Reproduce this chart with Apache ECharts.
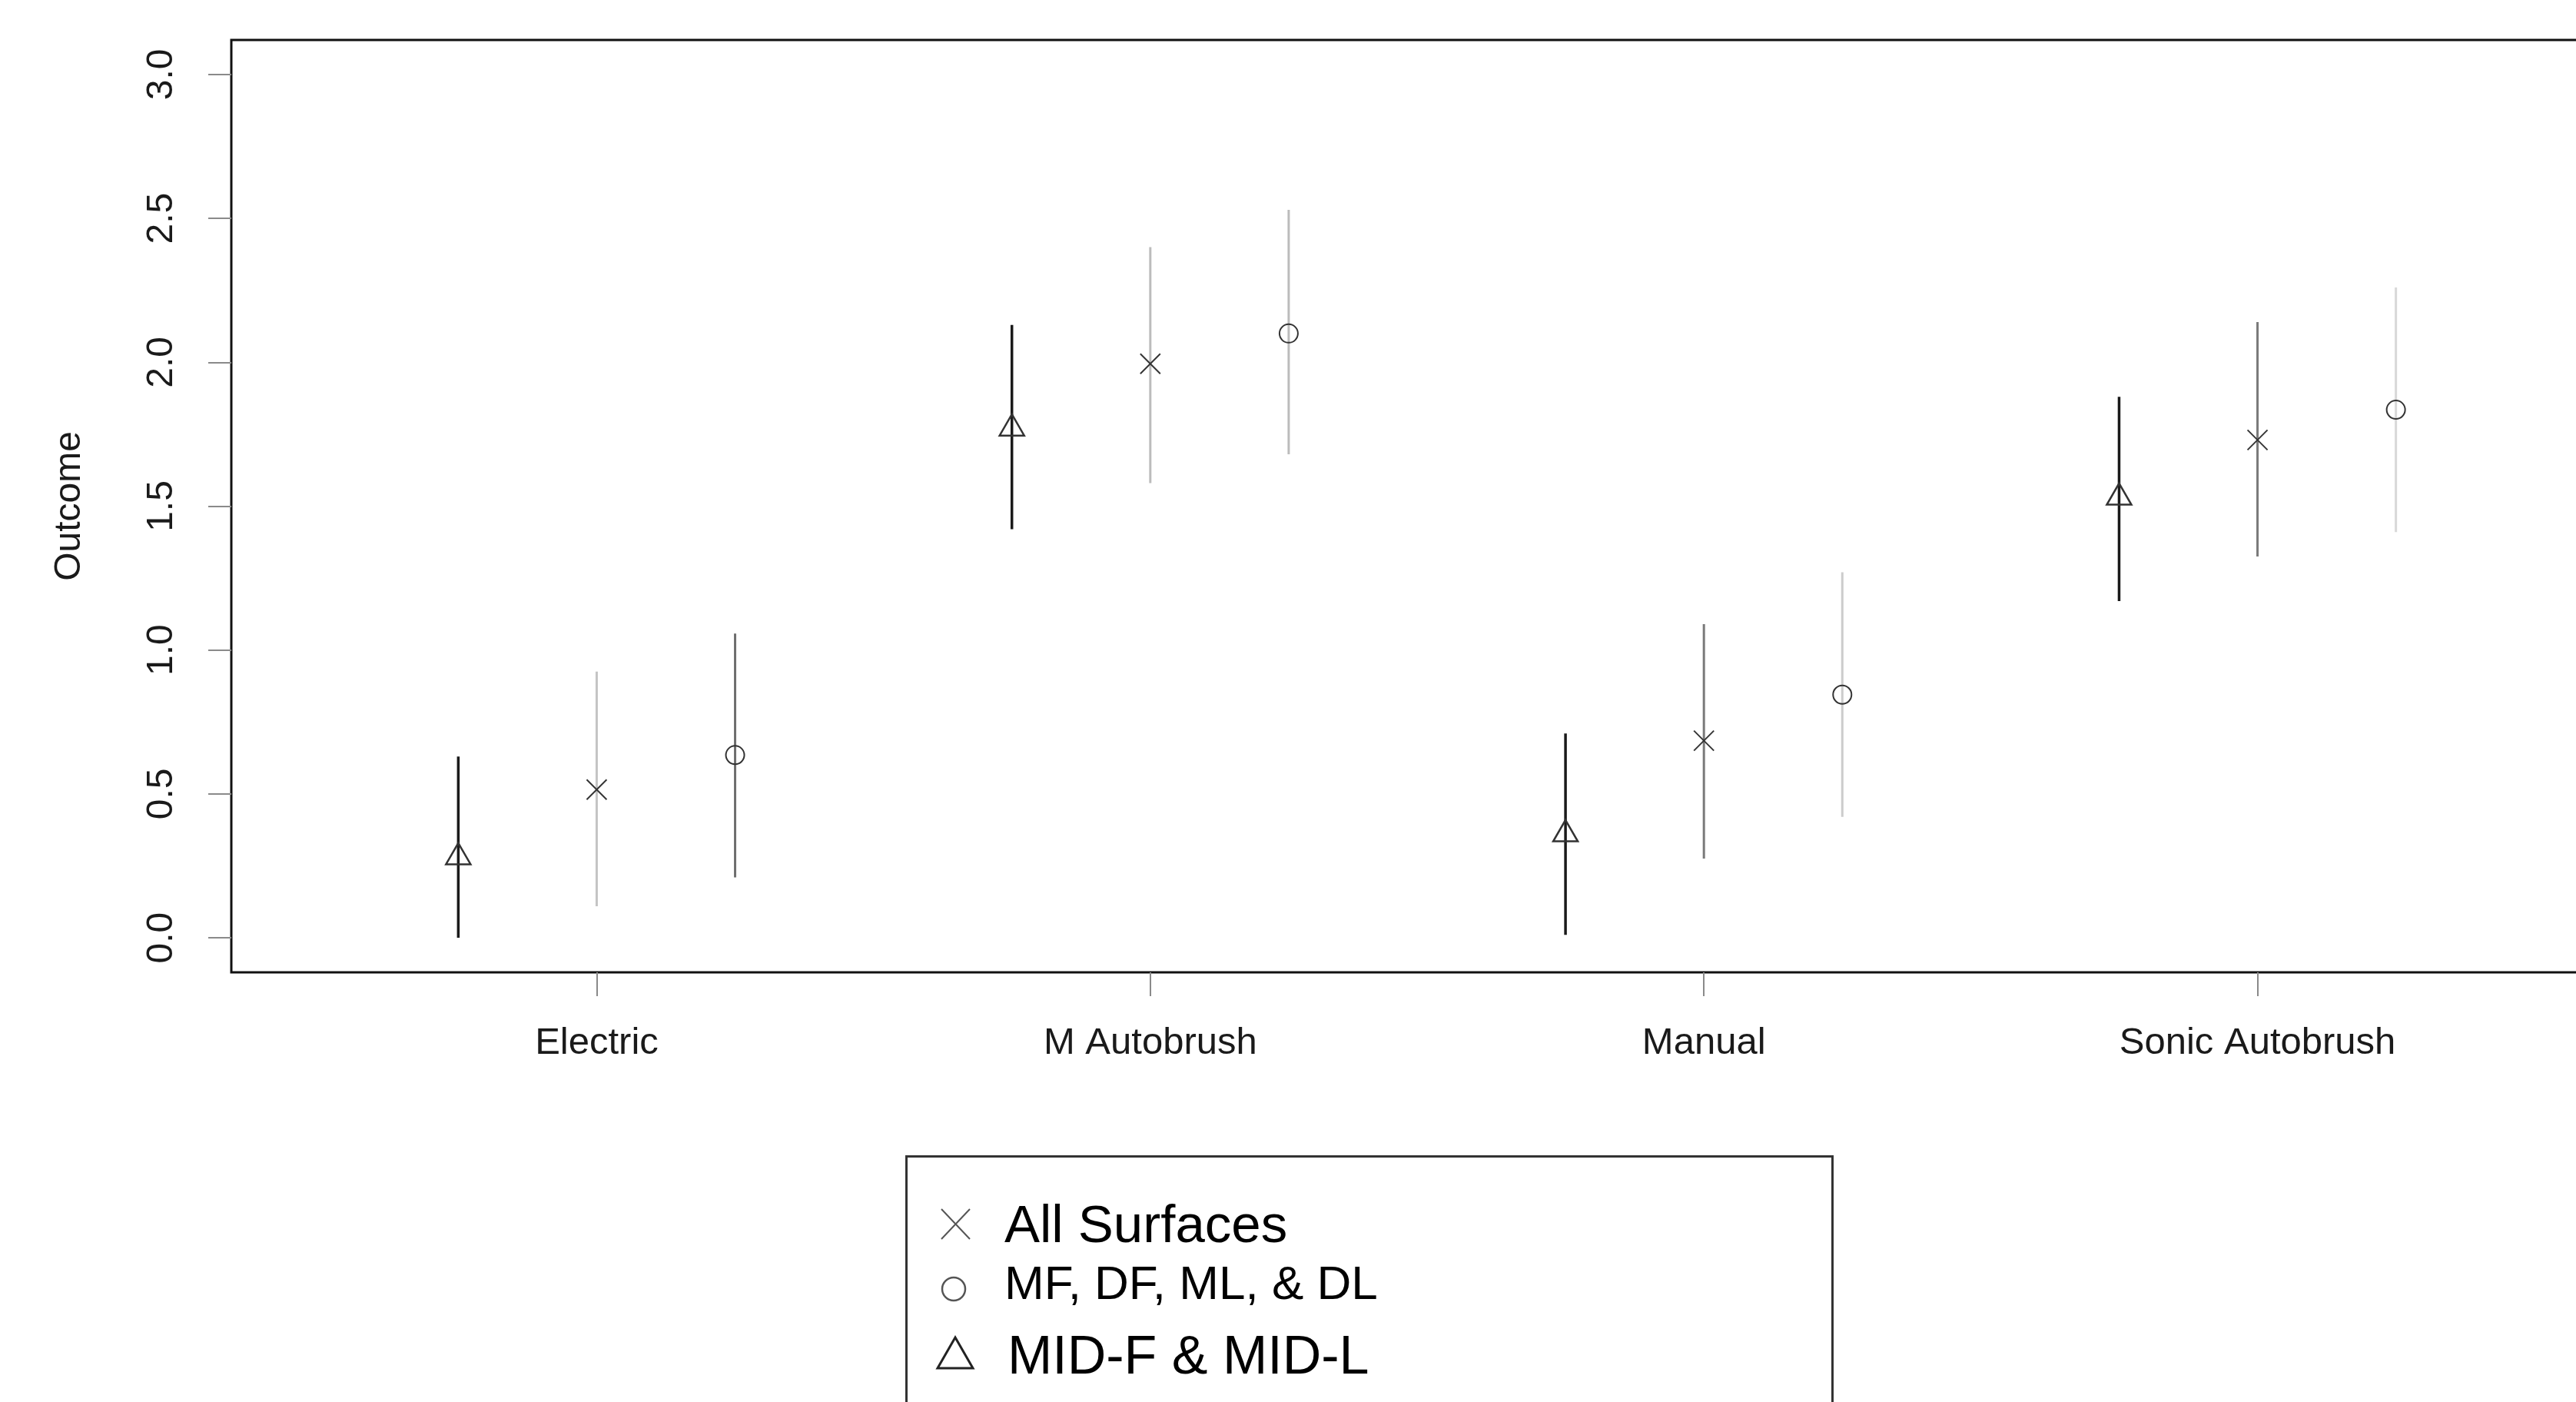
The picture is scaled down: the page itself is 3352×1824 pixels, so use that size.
<!DOCTYPE html>
<html>
<head>
<meta charset="utf-8">
<title>Outcome by brush type</title>
<script src="https://cdn.jsdelivr.net/npm/echarts@6/dist/echarts.min.js"></script>
<style>
html,body{margin:0;padding:0;background:#fff;}
#chart{width:3352px;height:1824px;}
</style>
</head>
<body>
<div id="chart"></div>
<script>
// ---- data ----
const categories = ['Electric', 'M Autobrush', 'Manual', 'Sonic Autobrush'];
const yTicks = [0, 0.5, 1, 1.5, 2, 2.5, 3];
const seriesNames = ['All Surfaces', 'MF, DF, ML, & DL', 'MID-F & MID-L'];

// All Surfaces (x)
const allMean = [0.515, 1.995, 0.685, 1.73];
const allLow  = [0.11, 1.58, 0.275, 1.325];
const allHigh = [0.925, 2.40, 1.09, 2.14];

// MF, DF, ML, & DL (circle)
const mfMean = [0.635, 2.10, 0.845, 1.835];
const mfLow  = [0.21, 1.68, 0.42, 1.41];
const mfHigh = [1.057, 2.53, 1.27, 2.26];

// MID-F & MID-L (triangle)
const midMean = [0.28, 1.77, 0.36, 1.53];
const midLow  = [0.0, 1.42, 0.01, 1.17];
const midHigh = [0.63, 2.13, 0.71, 1.88];

// ---- styles (kept apart from data) ----
const allBarColor = ['#c4c4c4', '#bcbcbc', '#7a7a7a', '#7a7a7a'];
const mfBarColor  = ['#6e6e6e', '#bcbcbc', '#cccccc', '#d8d8d8'];
const midBarColor = ['#1a1a1a', '#1a1a1a', '#1a1a1a', '#1a1a1a'];
const markerColor = '#333333';
const FONT = '"Liberation Sans", Arial, Helvetica, sans-serif';

function buildData(mean, low, high, offset) {
  return categories.map((c, i) => [i + 1 + offset, mean[i], low[i], high[i]]);
}

function makeRender(shape, barColors, barWidth) {
  return function (params, api) {
    const x = api.value(0);
    const pm = api.coord([x, api.value(1)]);
    const pl = api.coord([x, api.value(2)]);
    const ph = api.coord([x, api.value(3)]);
    const children = [{
      type: 'line',
      shape: {x1: pl[0], y1: pl[1], x2: ph[0], y2: ph[1]},
      style: {stroke: barColors[params.dataIndex], lineWidth: barWidth}
    }];
    const cx = pm[0], cy = pm[1];
    if (shape === 'x') {
      const h = 13;
      children.push({type: 'line', shape: {x1: cx - h, y1: cy - h, x2: cx + h, y2: cy + h},
        style: {stroke: markerColor, lineWidth: 2}});
      children.push({type: 'line', shape: {x1: cx - h, y1: cy + h, x2: cx + h, y2: cy - h},
        style: {stroke: markerColor, lineWidth: 2}});
    } else if (shape === 'circle') {
      children.push({type: 'circle', shape: {cx: cx, cy: cy, r: 12},
        style: {fill: 'none', stroke: markerColor, lineWidth: 2}});
    } else {
      const w = 16, ht = 27.7;
      children.push({type: 'polygon',
        shape: {points: [[cx, cy - ht * 2 / 3], [cx + w, cy + ht / 3], [cx - w, cy + ht / 3]]},
        style: {fill: 'none', stroke: markerColor, lineWidth: 2.5}});
    }
    return {type: 'group', children: children};
  };
}

const chart = echarts.init(document.getElementById('chart'), null, {renderer: 'canvas'});

const option = {
  backgroundColor: '#ffffff',
  animation: false,
  grid: {
    left: 301, top: 52, width: 3112, height: 1213,
    show: true, borderColor: '#111111', borderWidth: 3,
    backgroundColor: 'transparent',
    containLabel: false, outerBoundsMode: 'none'
  },
  xAxis: {
    type: 'value', min: 0.34, max: 4.66, position: 'bottom',
    splitLine: {show: false},
    axisLine: {show: false, onZero: false},
    axisTick: {show: true, customValues: [1, 2, 3, 4], length: 31, inside: false,
      lineStyle: {color: '#8a8a8a', width: 2}},
    axisLabel: {show: true, customValues: [1, 2, 3, 4], margin: 68,
      formatter: v => categories[Math.round(v) - 1] || '',
      fontFamily: FONT, fontSize: 49, color: '#1a1a1a'}
  },
  yAxis: {
    type: 'value', min: -0.12, max: 3.12, position: 'left',
    splitLine: {show: false},
    axisLine: {show: false, onZero: false},
    axisTick: {show: true, customValues: yTicks, length: 30, inside: false,
      lineStyle: {color: '#8a8a8a', width: 2}},
    axisLabel: {show: true, customValues: yTicks, rotate: 90, margin: 66,
      formatter: v => Number(v).toFixed(1),
      fontFamily: FONT, fontSize: 48, color: '#1a1a1a'},
    name: 'Outcome', nameLocation: 'middle', nameGap: 186, nameRotate: 90,
    nameTextStyle: {fontFamily: FONT, fontSize: 48, color: '#1a1a1a'}
  },
  series: [
    {
      name: seriesNames[2], type: 'custom', clip: false,
      renderItem: makeRender('triangle', midBarColor, 3.5),
      encode: {x: 0, y: [1, 2, 3]},
      data: buildData(midMean, midLow, midHigh, -0.25)
    },
    {
      name: seriesNames[0], type: 'custom', clip: false,
      renderItem: makeRender('x', allBarColor, 3),
      encode: {x: 0, y: [1, 2, 3]},
      data: buildData(allMean, allLow, allHigh, 0)
    },
    {
      name: seriesNames[1], type: 'custom', clip: false,
      renderItem: makeRender('circle', mfBarColor, 3),
      encode: {x: 0, y: [1, 2, 3]},
      data: buildData(mfMean, mfLow, mfHigh, 0.25)
    }
  ],
  graphic: [
    // legend box (runs past the bottom edge as in the reference)
    {type: 'rect', left: 1178, top: 1503, z: 10,
      shape: {x: 0, y: 0, width: 1205, height: 400},
      style: {fill: '#ffffff', stroke: '#333333', lineWidth: 3}},
    // legend symbols
    {type: 'line', z: 12, shape: {x1: 1225, y1: 1573, x2: 1262, y2: 1612}, style: {stroke: '#555555', lineWidth: 2}},
    {type: 'line', z: 12, shape: {x1: 1225, y1: 1612, x2: 1262, y2: 1573}, style: {stroke: '#555555', lineWidth: 2}},
    {type: 'circle', z: 12, shape: {cx: 1241, cy: 1677, r: 15}, style: {fill: 'none', stroke: '#555555', lineWidth: 2.5}},
    {type: 'polygon', z: 12, shape: {points: [[1243, 1740], [1266, 1780], [1220, 1780]]},
      style: {fill: 'none', stroke: '#222222', lineWidth: 3}},
    // legend texts
    {type: 'text', x: 1307, y: 1597, z: 12,
      style: {text: seriesNames[0], font: '69px ' + FONT, fill: '#000000', verticalAlign: 'middle', align: 'left'}},
    {type: 'text', x: 1307, y: 1673, z: 12,
      style: {text: seriesNames[1], font: '62px ' + FONT, fill: '#000000', verticalAlign: 'middle', align: 'left'}},
    {type: 'text', x: 1311, y: 1768, z: 12,
      style: {text: seriesNames[2], font: '70px ' + FONT, fill: '#000000', verticalAlign: 'middle', align: 'left'}}
  ]
};

chart.setOption(option);
</script>
</body>
</html>
